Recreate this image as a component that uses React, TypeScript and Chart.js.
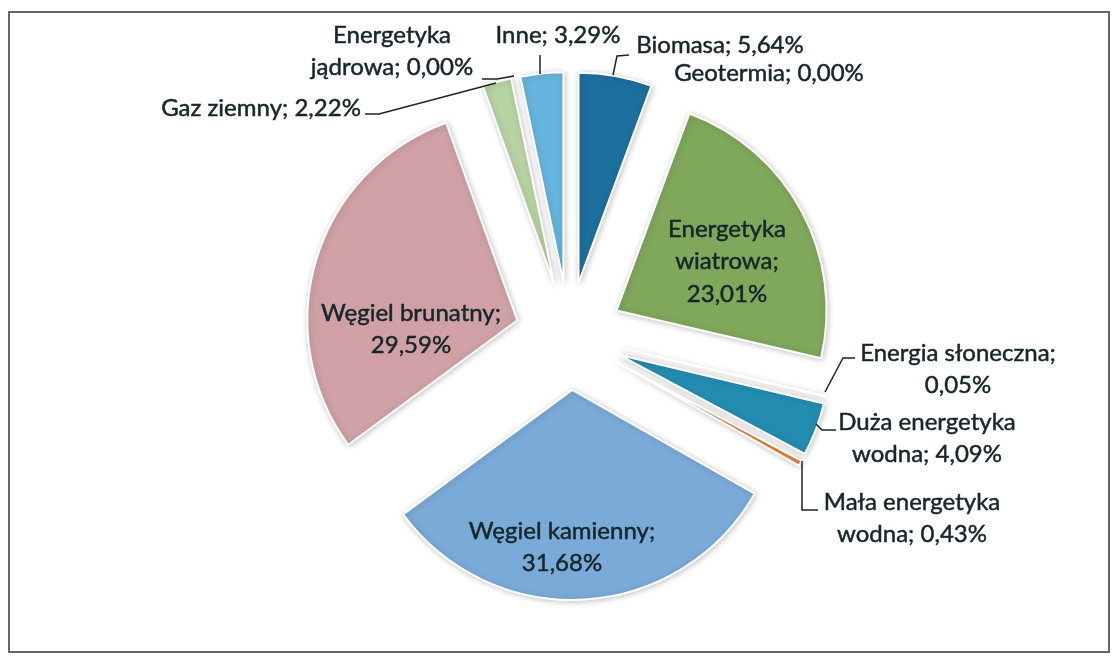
import React, { useEffect, useRef } from "react";
import { Chart, registerables } from "chart.js";

Chart.register(...registerables);

// ---- data ----
const categories = [
  "Biomasa",
  "Geotermia",
  "Energetyka wiatrowa",
  "Energia słoneczna",
  "Duża energetyka wodna",
  "Mała energetyka wodna",
  "Węgiel kamienny",
  "Węgiel brunatny",
  "Gaz ziemny",
  "Energetyka jądrowa",
  "Inne",
];
const shares = [5.64, 0.0, 23.01, 0.05, 4.09, 0.43, 31.68, 29.59, 2.22, 0.0, 3.29];

// ---- styles / layout ----
const sliceColors = [
  "#1D6F9E",
  "#8064A2",
  "#7FA85B",
  "#4BACC6",
  "#238DB1",
  "#E8873E",
  "#7AAAD8",
  "#CFA1A5",
  "#B7D3A4",
  "#9BBB59",
  "#66B5DE",
];

// label centre x, first line centre y, words per line
const labelLayout = [
  { x: 720, y: 45, lines: [3] },
  { x: 769, y: 73, lines: [2] },
  { x: 727, y: 229, lines: [1, 1, 1] },
  { x: 958, y: 353, lines: [2, 1] },
  { x: 927, y: 422, lines: [2, 2] },
  { x: 912, y: 502, lines: [2, 2] },
  { x: 562, y: 531, lines: [2, 1] },
  { x: 411, y: 313, lines: [2, 1] },
  { x: 261, y: 108, lines: [3] },
  { x: 392, y: 35, lines: [1, 2] },
  { x: 558, y: 35, lines: [2] },
];
const LINE_HEIGHT = 32.5;

const leaderLines: number[][][] = [
  [[613, 75], [617, 56], [629, 55]],
  [[540, 74], [540, 55]],
  [[365, 114], [379, 114], [496, 83]],
  [[482, 79], [497, 79], [514, 76]],
  [[825, 392], [843, 358], [855, 358]],
  [[816, 424], [822, 430], [836, 430]],
  [[802, 461], [802, 510], [818, 510]],
];

const EXPLODE = 54;
const RADIUS = 210;
const FONT = "24px Lato";
const TEXT_COLOR = "#17262b";

const fmt = (v: number) => v.toFixed(2).replace(".", ",") + "%";

const explodePlugin = {
  id: "explodeSlices",
  beforeDatasetsDraw(chart: any) {
    const ctx = chart.ctx;
    const meta = chart.getDatasetMeta(0);
    meta.data.forEach((el: any) => {
      const mid = (el.startAngle + el.endAngle) / 2;
      ctx.save();
      ctx.translate(Math.cos(mid) * EXPLODE, Math.sin(mid) * EXPLODE);
      ctx.shadowColor = "rgba(0,0,0,0.22)";
      ctx.shadowBlur = 6;
      ctx.shadowOffsetX = 1;
      ctx.shadowOffsetY = 1;
      el.draw(ctx);
      ctx.restore();
    });
    return false;
  },
};

const labelPlugin = {
  id: "sliceLabels",
  afterDraw(chart: any) {
    const ctx = chart.ctx;
    ctx.save();
    ctx.strokeStyle = "#222";
    ctx.lineWidth = 1.5;
    leaderLines.forEach((pts) => {
      ctx.beginPath();
      pts.forEach(([x, y], i) => (i === 0 ? ctx.moveTo(x, y) : ctx.lineTo(x, y)));
      ctx.stroke();
    });
    ctx.font = FONT;
    ctx.fillStyle = TEXT_COLOR;
    ctx.strokeStyle = TEXT_COLOR;
    ctx.lineWidth = 0.5;
    ctx.textAlign = "center";
    ctx.textBaseline = "middle";
    categories.forEach((cat, i) => {
      const words = `${cat}; ${fmt(shares[i])}`.split(" ");
      const lay = labelLayout[i];
      let k = 0;
      lay.lines.forEach((n, li) => {
        const line = words.slice(k, k + n).join(" ");
        k += n;
        const y = lay.y + li * LINE_HEIGHT;
        ctx.fillText(line, lay.x, y);
        ctx.strokeText(line, lay.x, y);
      });
    });
    ctx.restore();
  },
};

export default function App() {
  const ref = useRef<HTMLCanvasElement | null>(null);
  useEffect(() => {
    if (!ref.current) return;
    const chart = new Chart(ref.current, {
      type: "pie",
      data: {
        labels: categories,
        datasets: [
          {
            data: shares,
            backgroundColor: sliceColors,
            borderColor: "#ffffff",
            borderWidth: 2,
            radius: RADIUS,
          } as any,
        ],
      },
      options: {
        responsive: false,
        animation: false,
        radius: RADIUS,
        layout: { padding: { left: 26, top: 16 } },
        plugins: { legend: { display: false }, tooltip: { enabled: false } },
      } as any,
      plugins: [explodePlugin, labelPlugin],
    });
    return () => chart.destroy();
  }, []);
  return (
    <div style={{ position: "fixed", left: 0, top: 0, width: 1112, height: 656, background: "#fff" }}>
      <div
        style={{
          position: "absolute",
          left: 8,
          top: 11,
          width: 1102,
          height: 642,
          border: "2px solid #666",
          boxSizing: "border-box",
        }}
      />
      <canvas
        ref={ref}
        width={1112}
        height={656}
        style={{ position: "absolute", left: 0, top: 0, width: 1112, height: 656 }}
      />
    </div>
  );
}
